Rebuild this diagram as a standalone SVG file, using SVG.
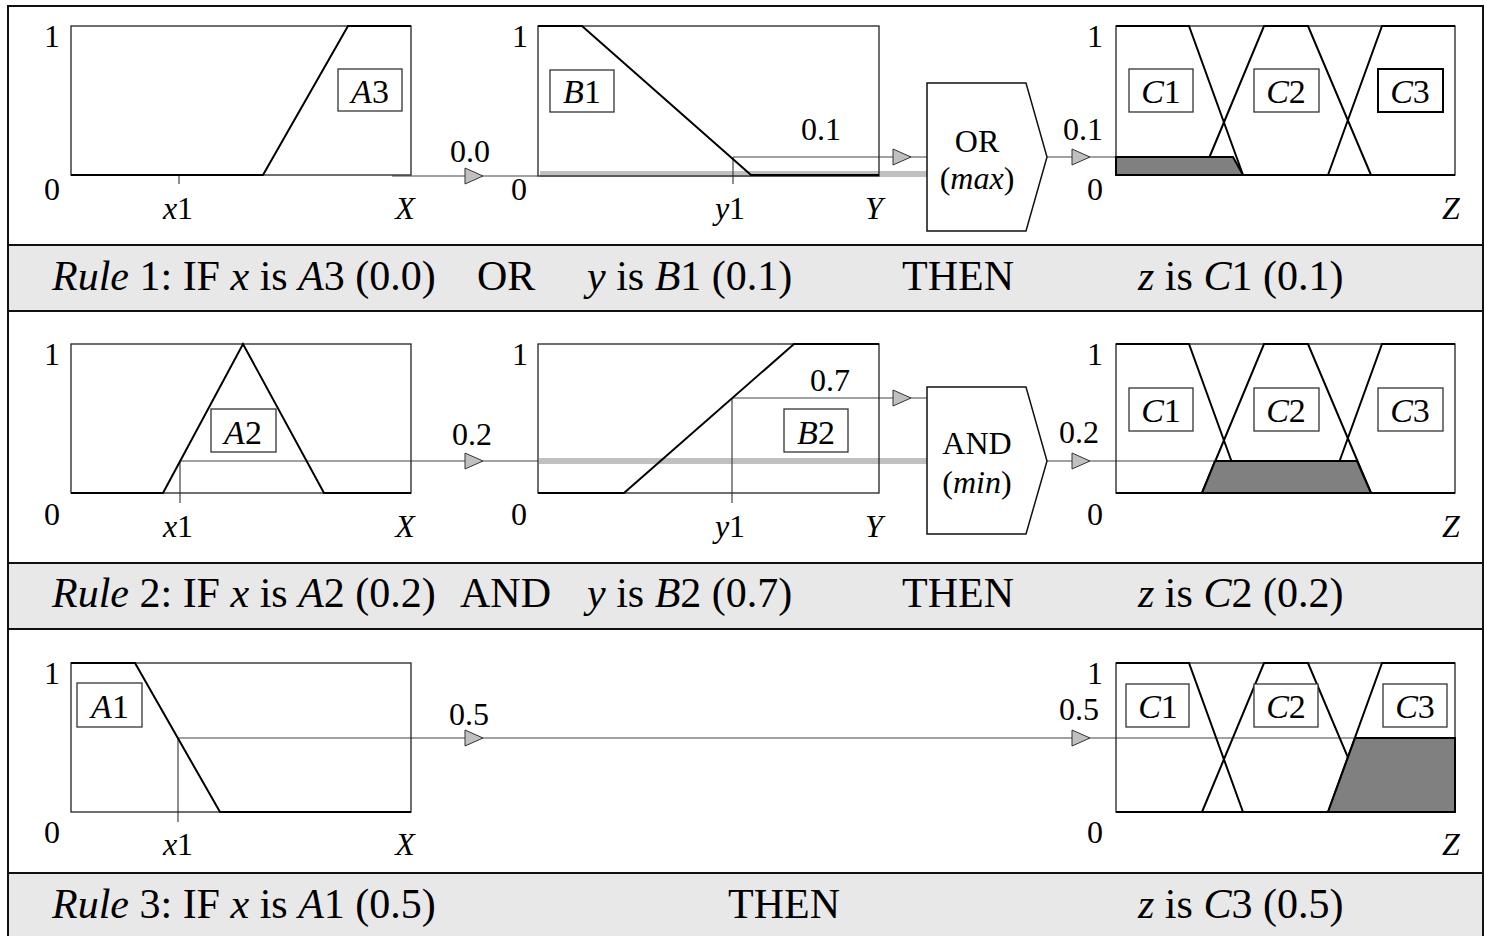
<svg xmlns="http://www.w3.org/2000/svg" xmlns:xlink="http://www.w3.org/1999/xlink" width="1485" height="936" viewBox="0 0 1485 936">
<style>
text{font-family:"Liberation Serif","Times New Roman",serif;fill:#000}
.frame{fill:none;stroke:#222;stroke-width:1.3}
.mf{fill:none;stroke:#000;stroke-width:2}
.lb{fill:#fff;stroke:#333;stroke-width:1.3}
.conn{fill:none;stroke:#444;stroke-width:1.2}
.gray{stroke:#c0c0c0;stroke-width:6;fill:none}
.shade{fill:#808080;stroke:#000;stroke-width:2}
.band{fill:#e8e8e8;stroke:#111;stroke-width:2}
.op{fill:#fff;stroke:#111;stroke-width:1.5}
.ax{font-size:32px;text-anchor:middle}
.bx{font-size:34px;text-anchor:middle}
.rule{font-size:42px}
.i{font-style:italic}
</style>
<defs>
<path id="tri" d="M0,-8 L18,0 L0,8 Z" fill="#c0c0c0" stroke="#333" stroke-width="1"/>
</defs>
<rect x="0" y="0" width="1485" height="936" fill="#fff"/>
<rect x="8" y="6" width="1475" height="940" fill="none" stroke="#111" stroke-width="2"/>

<g id="rule1-band"><rect class="band" x="8" y="245" width="1475" height="66"/>
<text class="rule" y="290"><tspan x="52" class="i">Rule</tspan> 1:  IF <tspan class="i">x</tspan> is <tspan class="i">A</tspan>3 (0.0)</text>
<text class="rule" x="477" y="290">OR</text>
<text class="rule" x="587" y="290"><tspan class="i">y</tspan> is <tspan class="i">B</tspan>1 (0.1)</text>
<text class="rule" x="902" y="290">THEN</text>
<text class="rule" x="1138" y="290"><tspan class="i">z</tspan> is <tspan class="i">C</tspan>1 (0.1)</text>
</g>
<g id="rule2-band"><rect class="band" x="8" y="563" width="1475" height="66"/>
<text class="rule" y="607"><tspan x="52" class="i">Rule</tspan> 2:  IF <tspan class="i">x</tspan> is <tspan class="i">A</tspan>2 (0.2)</text>
<text class="rule" x="460" y="607">AND</text>
<text class="rule" x="587" y="607"><tspan class="i">y</tspan> is <tspan class="i">B</tspan>2 (0.7)</text>
<text class="rule" x="902" y="607">THEN</text>
<text class="rule" x="1138" y="607"><tspan class="i">z</tspan> is <tspan class="i">C</tspan>2 (0.2)</text>
</g>
<g id="rule3-band"><rect class="band" x="8" y="873" width="1475" height="70"/>
<text class="rule" y="918"><tspan x="52" class="i">Rule</tspan> 3:  IF <tspan class="i">x</tspan> is <tspan class="i">A</tspan>1 (0.5)</text>
<text class="rule" x="728" y="918">THEN</text>
<text class="rule" x="1138" y="918"><tspan class="i">z</tspan> is <tspan class="i">C</tspan>3 (0.5)</text>
</g>

<g id="connectors">
<line class="conn" x1="392" y1="176" x2="538" y2="176"/>
<line class="gray" x1="540" y1="174" x2="927" y2="174"/>
<line class="conn" x1="179" y1="175" x2="179" y2="184"/>
<line class="conn" x1="733" y1="157" x2="733" y2="184"/>
<line class="conn" x1="733" y1="157" x2="927" y2="157"/>
<line class="conn" x1="1047" y1="157" x2="1233" y2="157"/>
<use xlink:href="#tri" href="#tri" x="465" y="176"/>
<use xlink:href="#tri" href="#tri" x="893" y="157"/>
<use xlink:href="#tri" href="#tri" x="1072" y="157"/>
<line class="conn" x1="180" y1="461" x2="538" y2="461"/>
<line class="conn" x1="180" y1="461" x2="180" y2="503"/>
<line class="gray" x1="539" y1="461" x2="927" y2="461"/>
<line class="conn" x1="732" y1="398" x2="732" y2="503"/>
<line class="conn" x1="732" y1="398" x2="927" y2="398"/>
<line class="conn" x1="1047" y1="461" x2="1216" y2="461"/>
<use xlink:href="#tri" href="#tri" x="465" y="461"/>
<use xlink:href="#tri" href="#tri" x="893" y="398"/>
<use xlink:href="#tri" href="#tri" x="1072" y="461"/>
<line class="conn" x1="178" y1="738" x2="178" y2="822"/>
<line class="conn" x1="178" y1="738" x2="1355" y2="738"/>
<use xlink:href="#tri" href="#tri" x="465" y="738"/>
<use xlink:href="#tri" href="#tri" x="1072" y="738"/>
</g>

<g id="panel-A3">
<rect class="frame" x="71" y="26" width="340" height="149"/>
<polyline class="mf" points="71,175 263,175 348,26 411,26"/>
<rect class="lb" x="338" y="69" width="64" height="42"/>
<text class="bx" x="370" y="103"><tspan class="i">A</tspan>3</text>
<text class="ax" x="52" y="47">1</text>
<text class="ax" x="52" y="200">0</text>
<text class="ax" x="178" y="219"><tspan class="i">x</tspan>1</text>
<text class="ax i" x="405" y="219">X</text>
<text class="ax" x="470" y="162">0.0</text>
</g>
<g id="panel-B1">
<rect class="frame" x="538" y="26" width="341" height="150"/>
<polyline class="mf" points="538,26 582,26 751,175 879,175"/>
<rect class="lb" x="550" y="70" width="64" height="42"/>
<text class="bx" x="582" y="103"><tspan class="i">B</tspan>1</text>
<text class="ax" x="520" y="47">1</text>
<text class="ax" x="519" y="200">0</text>
<text class="ax" x="730" y="219"><tspan class="i">y</tspan>1</text>
<text class="ax i" x="874" y="219">Y</text>
<text class="ax" x="821" y="140">0.1</text>
</g>
<g id="op-or">
<polygon class="op" points="927,83 1026,83 1047,157 1026,231 927,231"/>
<text class="ax" x="977" y="152">OR</text>
<text class="ax" x="977" y="189">(<tspan class="i">max</tspan>)</text>
</g>
<g id="panel-C-r1">
<rect class="frame" x="1116" y="26" width="339" height="149"/>
<polyline class="mf" points="1116,26 1189,26 1243,175"/>
<polyline class="mf" points="1202,175 1264,26 1308,26 1371,175"/>
<polyline class="mf" points="1328,175 1382,26 1455,26"/>
<line class="mf" x1="1116" y1="175" x2="1455" y2="175"/>
<polygon class="shade" points="1116,157 1233,157 1243,175 1116,175"/>
<rect class="lb" x="1129" y="69" width="64" height="43"/>
<rect class="lb" x="1254" y="69" width="65" height="43"/>
<rect class="lb" x="1378" y="69" width="65" height="43" style="stroke:#000;stroke-width:2"/>
<text class="bx" x="1161" y="103"><tspan class="i">C</tspan>1</text>
<text class="bx" x="1286" y="103"><tspan class="i">C</tspan>2</text>
<text class="bx" x="1410" y="103"><tspan class="i">C</tspan>3</text>
<text class="ax" x="1095" y="47">1</text>
<text class="ax" x="1095" y="200">0</text>
<text class="ax i" x="1451" y="219">Z</text>
<text class="ax" x="1083" y="140">0.1</text>
</g>

<g id="panel-A2">
<rect class="frame" x="71" y="344" width="340" height="149"/>
<polyline class="mf" points="71,493 163,493 243,344 324,493 411,493"/>
<rect class="lb" x="211" y="409" width="65" height="43"/>
<text class="bx" x="243" y="444"><tspan class="i">A</tspan>2</text>
<text class="ax" x="52" y="365">1</text>
<text class="ax" x="52" y="525">0</text>
<text class="ax" x="178" y="537"><tspan class="i">x</tspan>1</text>
<text class="ax i" x="405" y="537">X</text>
<text class="ax" x="472" y="445">0.2</text>
</g>
<g id="panel-B2">
<rect class="frame" x="538" y="344" width="341" height="149"/>
<polyline class="mf" points="538,493 624,493 794,344 879,344"/>
<rect class="lb" x="784" y="409" width="64" height="43"/>
<text class="bx" x="816" y="444"><tspan class="i">B</tspan>2</text>
<text class="ax" x="520" y="365">1</text>
<text class="ax" x="519" y="525">0</text>
<text class="ax" x="730" y="537"><tspan class="i">y</tspan>1</text>
<text class="ax i" x="874" y="537">Y</text>
<text class="ax" x="830" y="391">0.7</text>
</g>
<g id="op-and">
<polygon class="op" points="927,387 1026,387 1047,461 1026,534 927,534"/>
<text class="ax" x="977" y="454">AND</text>
<text class="ax" x="977" y="493">(<tspan class="i">min</tspan>)</text>
</g>
<g id="panel-C-r2">
<rect class="frame" x="1116" y="344" width="339" height="149"/>
<polyline class="mf" points="1116,344 1189,344 1243,493"/>
<polyline class="mf" points="1202,493 1264,344 1308,344 1371,493"/>
<polyline class="mf" points="1328,493 1382,344 1455,344"/>
<line class="mf" x1="1116" y1="493" x2="1455" y2="493"/>
<polygon class="shade" points="1202,493 1215,461 1357,461 1371,493"/>
<rect class="lb" x="1129" y="388" width="64" height="43"/>
<rect class="lb" x="1254" y="388" width="65" height="43"/>
<rect class="lb" x="1378" y="388" width="65" height="43"/>
<text class="bx" x="1161" y="422"><tspan class="i">C</tspan>1</text>
<text class="bx" x="1286" y="422"><tspan class="i">C</tspan>2</text>
<text class="bx" x="1410" y="422"><tspan class="i">C</tspan>3</text>
<text class="ax" x="1095" y="365">1</text>
<text class="ax" x="1095" y="525">0</text>
<text class="ax i" x="1451" y="537">Z</text>
<text class="ax" x="1079" y="443">0.2</text>
</g>

<g id="panel-A1">
<rect class="frame" x="71" y="663" width="340" height="149"/>
<polyline class="mf" points="71,663 135,663 220,812 411,812"/>
<rect class="lb" x="77" y="683" width="65" height="44"/>
<text class="bx" x="110" y="718"><tspan class="i">A</tspan>1</text>
<text class="ax" x="52" y="684">1</text>
<text class="ax" x="52" y="843">0</text>
<text class="ax" x="178" y="855"><tspan class="i">x</tspan>1</text>
<text class="ax i" x="405" y="855">X</text>
<text class="ax" x="469" y="725">0.5</text>
</g>
<g id="panel-C-r3">
<rect class="frame" x="1116" y="663" width="339" height="149"/>
<polyline class="mf" points="1116,663 1189,663 1243,812"/>
<polyline class="mf" points="1202,812 1264,663 1308,663 1371,812"/>
<polyline class="mf" points="1328,812 1382,663 1455,663"/>
<line class="mf" x1="1116" y1="812" x2="1455" y2="812"/>
<polygon class="shade" points="1328,812 1355,738 1455,738 1455,812"/>
<rect class="lb" x="1126" y="684" width="63" height="43"/>
<rect class="lb" x="1254" y="684" width="64" height="43"/>
<rect class="lb" x="1383" y="684" width="64" height="43"/>
<text class="bx" x="1158" y="718"><tspan class="i">C</tspan>1</text>
<text class="bx" x="1286" y="718"><tspan class="i">C</tspan>2</text>
<text class="bx" x="1415" y="718"><tspan class="i">C</tspan>3</text>
<text class="ax" x="1095" y="684">1</text>
<text class="ax" x="1095" y="843">0</text>
<text class="ax i" x="1451" y="855">Z</text>
<text class="ax" x="1079" y="720">0.5</text>
</g>
</svg>
